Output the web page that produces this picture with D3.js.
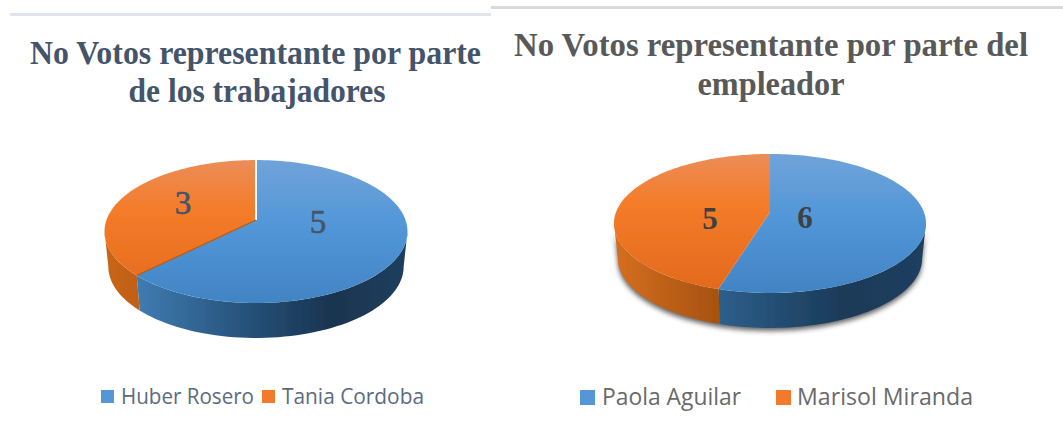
<!DOCTYPE html>
<html>
<head>
<meta charset="utf-8">
<script src="https://cdn.jsdelivr.net/npm/d3@7.9.0/dist/d3.min.js"></script>
<style>
  html, body { margin: 0; padding: 0; background: #fff; }
  svg { display: block; }
  .title { font-family: "Liberation Serif", serif; font-weight: bold; text-anchor: middle; }
  .label { font-family: "Liberation Serif", serif; text-anchor: middle; }
  .legend { font-family: "Open Sans", sans-serif; }
</style>
</head>
<body>
<svg id="chart" width="1063" height="444"></svg>
<script>
const leftCategories = ['Huber Rosero', 'Tania Cordoba'];
const leftValues = [5, 3];
const leftTitle = ['No Votos representante por parte', 'de los trabajadores'];

const rightCategories = ['Paola Aguilar', 'Marisol Miranda'];
const rightValues = [6, 5];
const rightTitle = ['No Votos representante por parte del', 'empleador'];

const svg = d3.select('#chart');
const defs = svg.append('defs');

defs.append('filter').attr('id', 'soft').append('feGaussianBlur').attr('stdDeviation', 0.45);
defs.append('filter').attr('id', 'shadow')
  .attr('x', '-10%').attr('y', '-10%').attr('width', '120%').attr('height', '130%')
  .append('feGaussianBlur').attr('stdDeviation', 2.5);

const topStops = {
  blue: [['0%', '#70a3d9'], ['45%', '#5297d8'], ['100%', '#4184c4']],
  orange: [['0%', '#ec8d58'], ['35%', '#f47c29'], ['100%', '#e2691c']],
};

function gradient(id, stops, x1, y1, x2, y2) {
  const g = defs.append('linearGradient').attr('id', id)
    .attr('gradientUnits', 'userSpaceOnUse')
    .attr('x1', x1).attr('y1', y1).attr('x2', x2).attr('y2', y2);
  stops.forEach(([offset, color]) => g.append('stop').attr('offset', offset).attr('stop-color', color));
}

function drawPie(id, values, o) {
  const g = svg.append('g').attr('filter', 'url(#soft)');
  const k = o.k;
  // tilted disc: the far side shrinks, so the apex sits above the ellipse centre
  const project = (t, drop = 0, shrink = 1) => {
    const u = Math.sin(t), v = -Math.cos(t), w = 1 - k * v;
    return [o.x + shrink * o.b * u / w, o.y + o.a * v / w + drop];
  };
  const line = d3.line();
  const arcs = d3.pie().sort(null)(values);
  const names = ['blue', 'orange'];
  const visFrom = Math.acos(-k), visTo = 2 * Math.PI - visFrom;

  const wallPath = (a0, a1) => {
    const ts = d3.range(0, 61).map((i) => a0 + (a1 - a0) * i / 60);
    const upper = ts.map((t) => project(t));
    const lower = ts.slice().reverse().map((t) => project(t, o.depth, 0.975));
    return line(upper.concat(lower)) + 'Z';
  };

  if (o.shadow) {
    g.append('path')
      .attr('d', wallPath(visFrom, visTo))
      .attr('transform', 'translate(0,3)')
      .attr('fill', '#333')
      .attr('opacity', 0.75)
      .attr('filter', 'url(#shadow)');
  }

  arcs.forEach((d, i) => {
    const a0 = Math.max(d.startAngle, visFrom);
    const a1 = Math.min(d.endAngle, visTo);
    if (a1 <= a0) return;
    const wallId = `${id}-wall-${i}`;
    // wall stops run left to right on screen
    const xs = d3.extent([project(a0)[0], project(a1)[0]]);
    gradient(wallId, o.walls[i], xs[0], 0, xs[1], 0);
    g.append('path').attr('d', wallPath(a0, a1)).attr('fill', `url(#${wallId})`);
  });

  arcs.forEach((d, i) => {
    const topId = `${id}-top-${i}`;
    gradient(topId, topStops[names[i]], 0, o.y - o.a / (1 + k), 0, o.y + o.a / (1 - k));
    const ts = d3.range(0, 121).map((j) => d.startAngle + (d.endAngle - d.startAngle) * j / 120);
    const pts = [[o.x, o.y]].concat(ts.map((t) => project(t)));
    g.append('path').attr('d', line(pts) + 'Z').attr('fill', `url(#${topId})`);
  });

  // slice edges on the top face
  const back = project(0), cut = project(arcs[0].endAngle);
  if (o.whiteEdge) {
    g.append('path').attr('d', line([back, [o.x, o.y]])).attr('stroke', '#fff').attr('stroke-width', 2).attr('fill', 'none');
    g.append('path').attr('d', line([[o.x, o.y], cut])).attr('stroke', '#b9580f').attr('stroke-width', 1.2).attr('fill', 'none');
  }

  values.forEach((v, i) => {
    svg.append('text').attr('class', 'label')
      .attr('x', o.labels[i][0]).attr('y', o.labels[i][1])
      .attr('font-size', o.labelSize)
      .attr('font-weight', o.labelWeight)
      .attr('fill', o.labelColor)
      .attr('stroke', o.labelColor)
      .attr('stroke-width', o.labelStroke)
      .text(v);
  });
}

function drawTitle(lines, o) {
  lines.forEach((t, i) => {
    svg.append('text').attr('class', 'title')
      .attr('x', o.xs[i]).attr('y', o.ys[i])
      .attr('font-size', o.size)
      .attr('fill', o.color)
      .attr('textLength', o.lengths[i])
      .attr('lengthAdjust', 'spacingAndGlyphs')
      .text(t);
  });
}

function drawLegend(cats, o) {
  const colors = d3.scaleOrdinal(cats, ['#5597d6', '#f27a2a']);
  cats.forEach((c, i) => {
    svg.append('rect')
      .attr('x', o.swatches[i]).attr('y', o.boxY)
      .attr('width', o.box).attr('height', o.box)
      .attr('fill', colors(c)).attr('filter', 'url(#soft)');
    svg.append('text').attr('class', 'legend')
      .attr('x', o.texts[i]).attr('y', o.y)
      .attr('font-size', o.size)
      .attr('fill', o.color)
      .attr('textLength', o.lengths[i])
      .attr('lengthAdjust', 'spacingAndGlyphs')
      .text(c);
  });
}

// header rules
svg.append('rect').attr('x', 10).attr('y', 13).attr('width', 481).attr('height', 3).attr('fill', '#e1e4eb');
svg.append('rect').attr('x', 491).attr('y', 6).attr('width', 572).attr('height', 3).attr('fill', '#dadada');

drawPie('l', leftValues, {
  x: 256, y: 220, a: 69.6, b: 149.5, k: 0.161, depth: 35, whiteEdge: true, shadow: false,
  walls: [
    [['0%', '#3f7cb2'], ['40%', '#27527a'], ['72%', '#193450'], ['100%', '#1f3f5e']],
    [['0%', '#c8661a'], ['100%', '#c05f15']],
  ],
  labels: [[318, 233], [183, 214]], labelSize: 33, labelWeight: 'normal', labelStroke: 0.6, labelColor: '#44546a',
});

drawPie('r', rightValues, {
  x: 770, y: 212, a: 67.6, b: 153.9, k: 0.165, depth: 35, whiteEdge: false, shadow: true,
  walls: [
    [['0%', '#2d5f8b'], ['60%', '#1a3a58'], ['100%', '#1f3f5f']],
    [['0%', '#d56f20'], ['100%', '#a65210']],
  ],
  labels: [[805, 228], [710, 229]], labelSize: 31, labelWeight: 'bold', labelStroke: 0, labelColor: '#404040',
});

drawTitle(leftTitle, { xs: [255.5, 257], ys: [64, 102], size: 34, color: '#44546a', lengths: [451, 257] });
drawTitle(rightTitle, { xs: [771, 771], ys: [56, 95], size: 33, color: '#595959', lengths: [514, 147] });

drawLegend(leftCategories, {
  swatches: [101, 262], texts: [121, 282], y: 404, boxY: 390, size: 21, box: 13,
  lengths: [133, 142], color: '#5a6b80',
});
drawLegend(rightCategories, {
  swatches: [580, 776], texts: [602, 797], y: 405, boxY: 390, size: 23, box: 15,
  lengths: [139, 176], color: '#6a6a6a',
});
</script>
</body>
</html>
